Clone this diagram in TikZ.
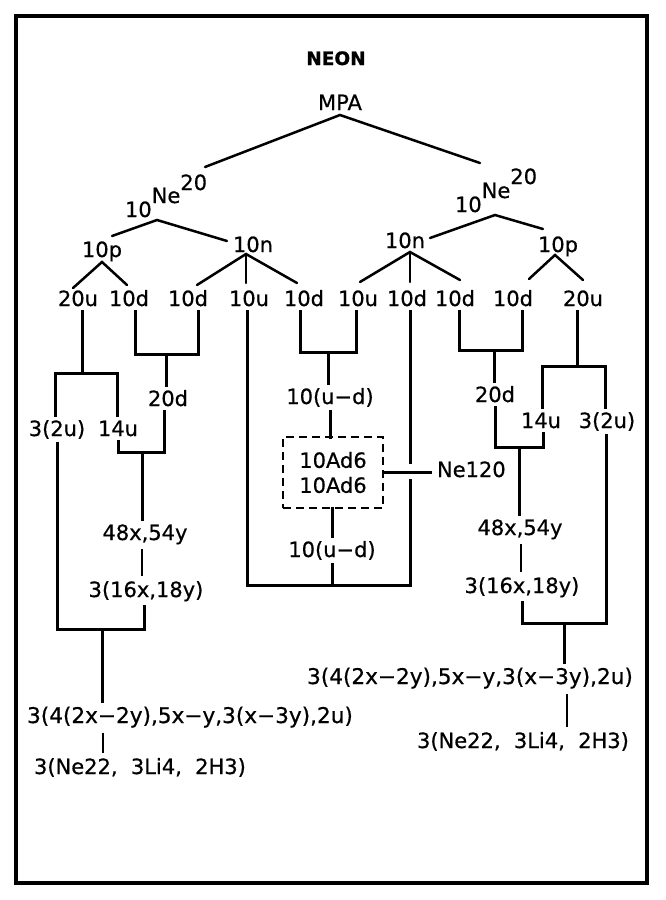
\documentclass[tikz,border=0pt]{standalone}
\usepackage{fontspec}
\setmainfont{DejaVu Sans}[FakeBold=0.6]
\newfontfamily\boldsansfam{DejaVu Sans Bold}[FakeBold=1]
\begin{document}
\begin{tikzpicture}[x=1pt,y=-1pt,
  lbl/.style={anchor=base, inner sep=0pt, outer sep=5pt, font=\fontsize{21}{25}\selectfont},
  longlbl/.style={lbl, font=\fontsize{21.6}{25}\selectfont},
  ln/.style={line width=3pt, line cap=rect},
  diag/.style={line width=2.5pt, line cap=round},
  thinln/.style={line width=1.8pt},
  dbox/.style={draw, dash pattern=on 8pt off 5pt, line width=2.2pt, inner sep=0pt, outer sep=0pt,
     minimum width=100pt, minimum height=71pt, align=center, font=\fontsize{21}{25}\selectfont}]
\useasboundingbox (0,0) rectangle (665,900);
\draw[line width=4pt] (16,16) rectangle (647,883);

% top
\node[lbl, font=\fontsize{18.5}{22}\boldsansfam] (neon) at (336,65) {NEON};
\node[lbl] (mpa) at (340,110) {MPA};
\node[lbl, anchor=base west] (neL) at (120,217) {10\raisebox{14pt}{Ne\raisebox{13pt}{20}}};
\node[lbl, anchor=base west] (neR) at (450,212) {10\raisebox{14pt}{Ne\raisebox{14pt}{20}}};
\node[lbl] (pL) at (102,257) {10p};
\node[lbl] (nL) at (253,252) {10n};
\node[lbl] (nR) at (405,248) {10n};
\node[lbl] (pR) at (558,252) {10p};

\coordinate (mL) at (205,167);
\coordinate (mR) at (480,163);
\draw[diag] (mL) -- (mpa.south) -- (mR);
\coordinate (aNL) at (157,220);
\draw[diag] (112,236) -- (aNL) -- (227,241);
\coordinate (aNR) at (495,215);
\draw[diag] (430,238) -- (aNR) -- (543,229);
\draw[diag] (73,288) -- (102,262) -- (127,285);
\draw[diag] (197,285) -- (246,254) -- (297,283);
\draw[diag] (246,254) -- (246,283);
\draw[diag] (360,282) -- (410,252) -- (460,280);
\draw[diag] (410,252) -- (410,282);
\draw[diag] (529,279) -- (555,255) -- (583,280);

% row of quarks
\node[lbl] (a1) at (78,306) {20u};
\node[lbl] (a2) at (129,306) {10d};
\node[lbl] (a3) at (188,306) {10d};
\node[lbl] (a4) at (249,306) {10u};
\node[lbl] (a5) at (304,306) {10d};
\node[lbl] (a6) at (358,306) {10u};
\node[lbl] (a7) at (407,306) {10d};
\node[lbl] (a8) at (455,306) {10d};
\node[lbl] (a9) at (513,306) {10d};
\node[lbl] (a10) at (583,306) {20u};

% left branch
\node[lbl] (b1) at (57,436) {3(2u)};
\node[lbl] (b2) at (118,436) {14u};
\node[lbl] (b3) at (168,406) {20d};
\node[lbl] (b4) at (145,540) {48x,54y};
\node[lbl] (b5) at (146,597) {3(16x,18y)};
\node[longlbl] (b6) at (190,723) {3(4(2x−2y),5x−y,3(x−3y),2u)};
\node[lbl] (b7) at (140,774) {3(Ne22,\ \ 3Li4,\ \ 2H3)};

\draw[ln] (a1.south -| 82,0) -- (82,373);
\draw[ln] (b1.north -| 55,0) -- (55,373) -- (117,373) -- (b2.north -| 117,0);
\draw[ln] (a2.south -| 135,0) -- (135,354) -- (198,354) -- (a3.south -| 198,0);
\draw[ln] (166,354) -- (b3.north -| 166,0);
\draw[ln] (b3.south -| 164,0) -- (164,452) -- (118,452) -- (b2.south -| 118,0);
\draw[ln] (142,452) -- (b4.north -| 142,0);
\draw[thinln] (b4.south -| 142,0) -- (b5.north -| 142,0);
\draw[ln] (b1.south -| 57,0) -- (57,629) -- (144,629) -- (b5.south -| 144,0);
\draw[ln] (102,629) -- (b6.north -| 102,0);
\draw[thinln] (b6.south -| 103,0) -- (b7.north -| 103,0);

% middle
\node[lbl] (c1) at (330,404) {10(u−d)};
\node[dbox] (box) at (333,472.5) {10Ad6\\10Ad6};
\node[lbl] (c3) at (332,557) {10(u−d)};
\node[lbl, anchor=base west] (ne120) at (432,477) {Ne120};

\draw[ln] (a4.south -| 247,0) -- (247,585) -- (410,585) -- (410,480);
\draw[ln] (a7.south -| 410,0) -- (410,462);
\draw[ln] (a5.south -| 300,0) -- (300,352) -- (356,352) -- (a6.south -| 356,0);
\draw[ln] (328,352) -- (c1.north -| 328,0);
\draw[ln] (c1.south -| 330,0) -- (box.north -| 330,0);
\draw[ln] (box.south -| 332,0) -- (c3.north -| 332,0);
\draw[ln] (c3.south -| 332,0) -- (332,585);
\draw[line width=2.2pt] (box.east) -- (box.east -| ne120.west);

% right branch
\node[lbl] (d1) at (495,402) {20d};
\node[lbl] (d2) at (541,428) {14u};
\node[lbl] (d3) at (607,428) {3(2u)};
\node[lbl] (d4) at (520,535) {48x,54y};
\node[lbl] (d5) at (522,593) {3(16x,18y)};
\node[longlbl] (d6) at (470,684) {3(4(2x−2y),5x−y,3(x−3y),2u)};
\node[lbl] (d7) at (523,748) {3(Ne22,\ \ 3Li4,\ \ 2H3)};

\draw[ln] (a8.south -| 459,0) -- (459,350) -- (522,350) -- (a9.south -| 522,0);
\draw[ln] (494,350) -- (d1.north -| 494,0);
\draw[ln] (d1.south -| 495,0) -- (495,447) -- (543,447) -- (d2.south -| 543,0);
\draw[ln] (a10.south -| 577,0) -- (577,366);
\draw[ln] (d2.north -| 542,0) -- (542,366) -- (605,366) -- (d3.north -| 605,0);
\draw[ln] (519,447) -- (d4.north -| 519,0);
\draw[thinln] (d4.south -| 521,0) -- (d5.north -| 521,0);
\draw[ln] (d3.south -| 606,0) -- (606,623) -- (522,623) -- (d5.south -| 522,0);
\draw[ln] (564,623) -- (d6.north -| 564,0);
\draw[thinln] (d6.south -| 567,0) -- (d7.north -| 567,0);
\end{tikzpicture}
\end{document}
